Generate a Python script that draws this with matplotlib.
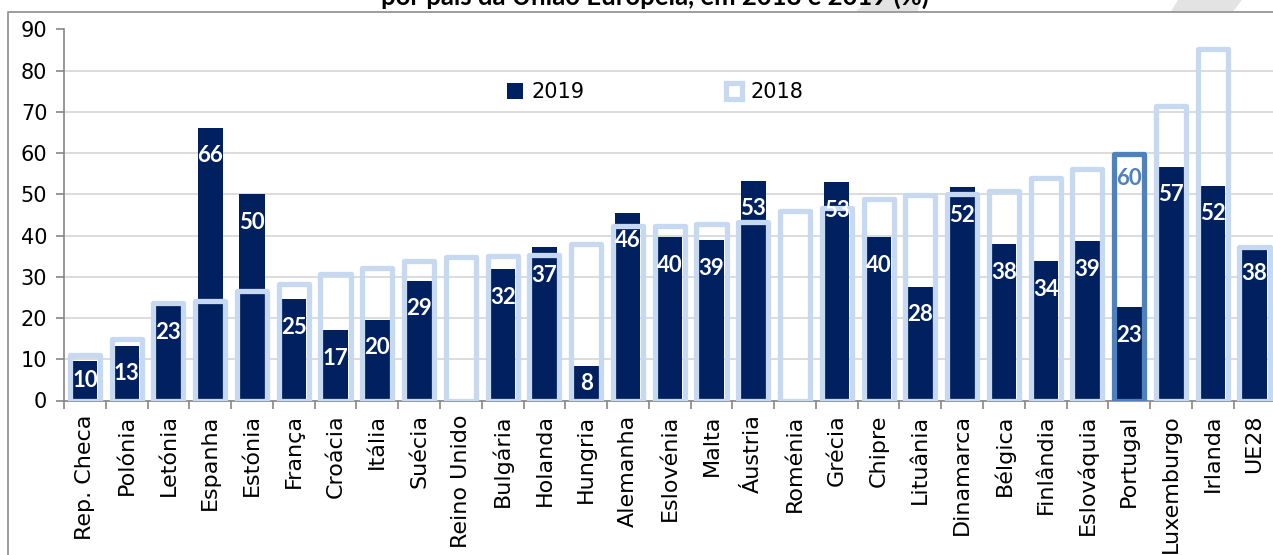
import numpy as np
import matplotlib.pyplot as plt
from matplotlib.lines import Line2D
from matplotlib.patches import Polygon

# dados
paises = ["Rep. Checa", "Polónia", "Letónia", "Espanha", "Estónia", "França",
          "Croácia", "Itália", "Suécia", "Reino Unido", "Bulgária", "Holanda",
          "Hungria", "Alemanha", "Eslovénia", "Malta", "Áustria", "Roménia",
          "Grécia", "Chipre", "Lituânia", "Dinamarca", "Bélgica", "Finlândia",
          "Eslováquia", "Portugal", "Luxemburgo", "Irlanda", "UE28"]

v2019 = [9.7, 13.1, 23.2, 66.2, 50.0, 24.6, 17.0, 19.6, 29.1, np.nan,
         31.8, 37.2, 8.3, 45.6, 39.6, 38.9, 53.3, np.nan, 53.0, 39.6,
         27.6, 51.7, 37.9, 33.8, 38.7, 22.6, 56.7, 52.1, 37.5]

v2018 = [11.0, 14.8, 23.7, 24.2, 26.5, 28.3, 30.8, 32.1, 33.8, 34.8,
         35.0, 35.2, 37.9, 42.3, 42.3, 42.8, 43.3, 45.9, 46.8, 49.0,
         49.8, 50.0, 50.8, 54.0, 56.1, 59.7, 71.5, 85.3, 37.2]

destaque = "Portugal"

escuro = "#002060"
claro = "#C6D9F1"
azul = "#4F81BD"

W, H = 1273, 555
fig = plt.figure(figsize=(W / 100, H / 100), dpi=100)

# moldura do slide (cortada)
fig.add_artist(Line2D([8 / W, 8 / W, 1], [0, 1 - 12 / H, 1 - 12 / H],
                      transform=fig.transFigure, color="#8c8c8c", lw=1.2))
# formas de fundo no topo
for pts in ([(856, 11.5), (868, 0), (920, 0), (918, 11.5)],
            [(1171, 11.5), (1178, 0), (1242, 0), (1233, 11.5)]):
    fig.add_artist(Polygon([(x / W, 1 - y / H) for x, y in pts], closed=True,
                           transform=fig.transFigure, facecolor="#e3e3e3",
                           edgecolor="none", zorder=0))

# título (cortado no topo, como no original)
fig.text(655 / W, 1 - 5 / H, "por país da União Europeia, em 2018 e 2019 (%)",
         ha="center", va="baseline", fontsize=18.5, fontweight="bold",
         family="Lato")

ax = fig.add_axes([64 / W, 1 - 400.5 / H, 1209 * 1.002 / W, 371 / H])

x = np.arange(len(paises))
b19 = ax.bar(x, v2019, width=0.6, color=escuro, zorder=2, label="2019")

cores_borda = [azul if p == destaque else claro for p in paises]
b18 = ax.bar(x, v2018, width=0.72, facecolor="none", edgecolor=cores_borda,
             linewidth=3.8, zorder=3, label="2018")
for r, p in zip(b18, paises):
    r.set_joinstyle("round")
    if p == destaque:
        r.set_zorder(3.5)

# etiquetas de valor
for xi, v in zip(x, v2019):
    if np.isnan(v):
        continue
    ax.text(xi, max(v - 6.8, v / 2), f"{v:.0f}", ha="center", va="center",
            color="white", fontsize=16, fontweight="bold", family="Lato",
            zorder=5)
i = paises.index(destaque)
ax.text(i, v2018[i] - 5.8, f"{v2018[i]:.0f}", ha="center", va="center",
        color=azul, fontsize=16, fontweight="bold", family="Lato", zorder=5)

ax.set_xlim(-0.5, len(paises) - 0.5)
ax.set_ylim(0, 90)
ax.set_yticks(np.arange(0, 91, 10))
ax.yaxis.grid(True, color="#d9d9d9", lw=1.3)
ax.set_axisbelow(True)

ax.set_xticks(x)
ax.set_xticklabels(paises, rotation=90, fontsize=16)
ax.set_xticks(np.arange(-0.5, len(paises), 1), minor=True)
ax.tick_params(axis="x", which="major", length=0, pad=10)
ax.tick_params(axis="x", which="minor", length=6, width=1.2, color="#868686",
               direction="out")
ax.tick_params(axis="y", length=6, width=1.2, color="#868686", labelsize=15,
               pad=6)

for s in ("top", "right"):
    ax.spines[s].set_visible(False)
for s in ("left", "bottom"):
    ax.spines[s].set_color("#868686")
    ax.spines[s].set_linewidth(1.2)

leg = ax.legend(handles=[b19, b18], loc="center", ncol=2, frameon=False,
                bbox_to_anchor=(0.488, 0.831), fontsize=15, handlelength=0.75,
                handleheight=0.75, handletextpad=0.4, columnspacing=6.8)
leg.legend_handles[1].set_edgecolor(claro)

fig.savefig("out.png", dpi=100)
